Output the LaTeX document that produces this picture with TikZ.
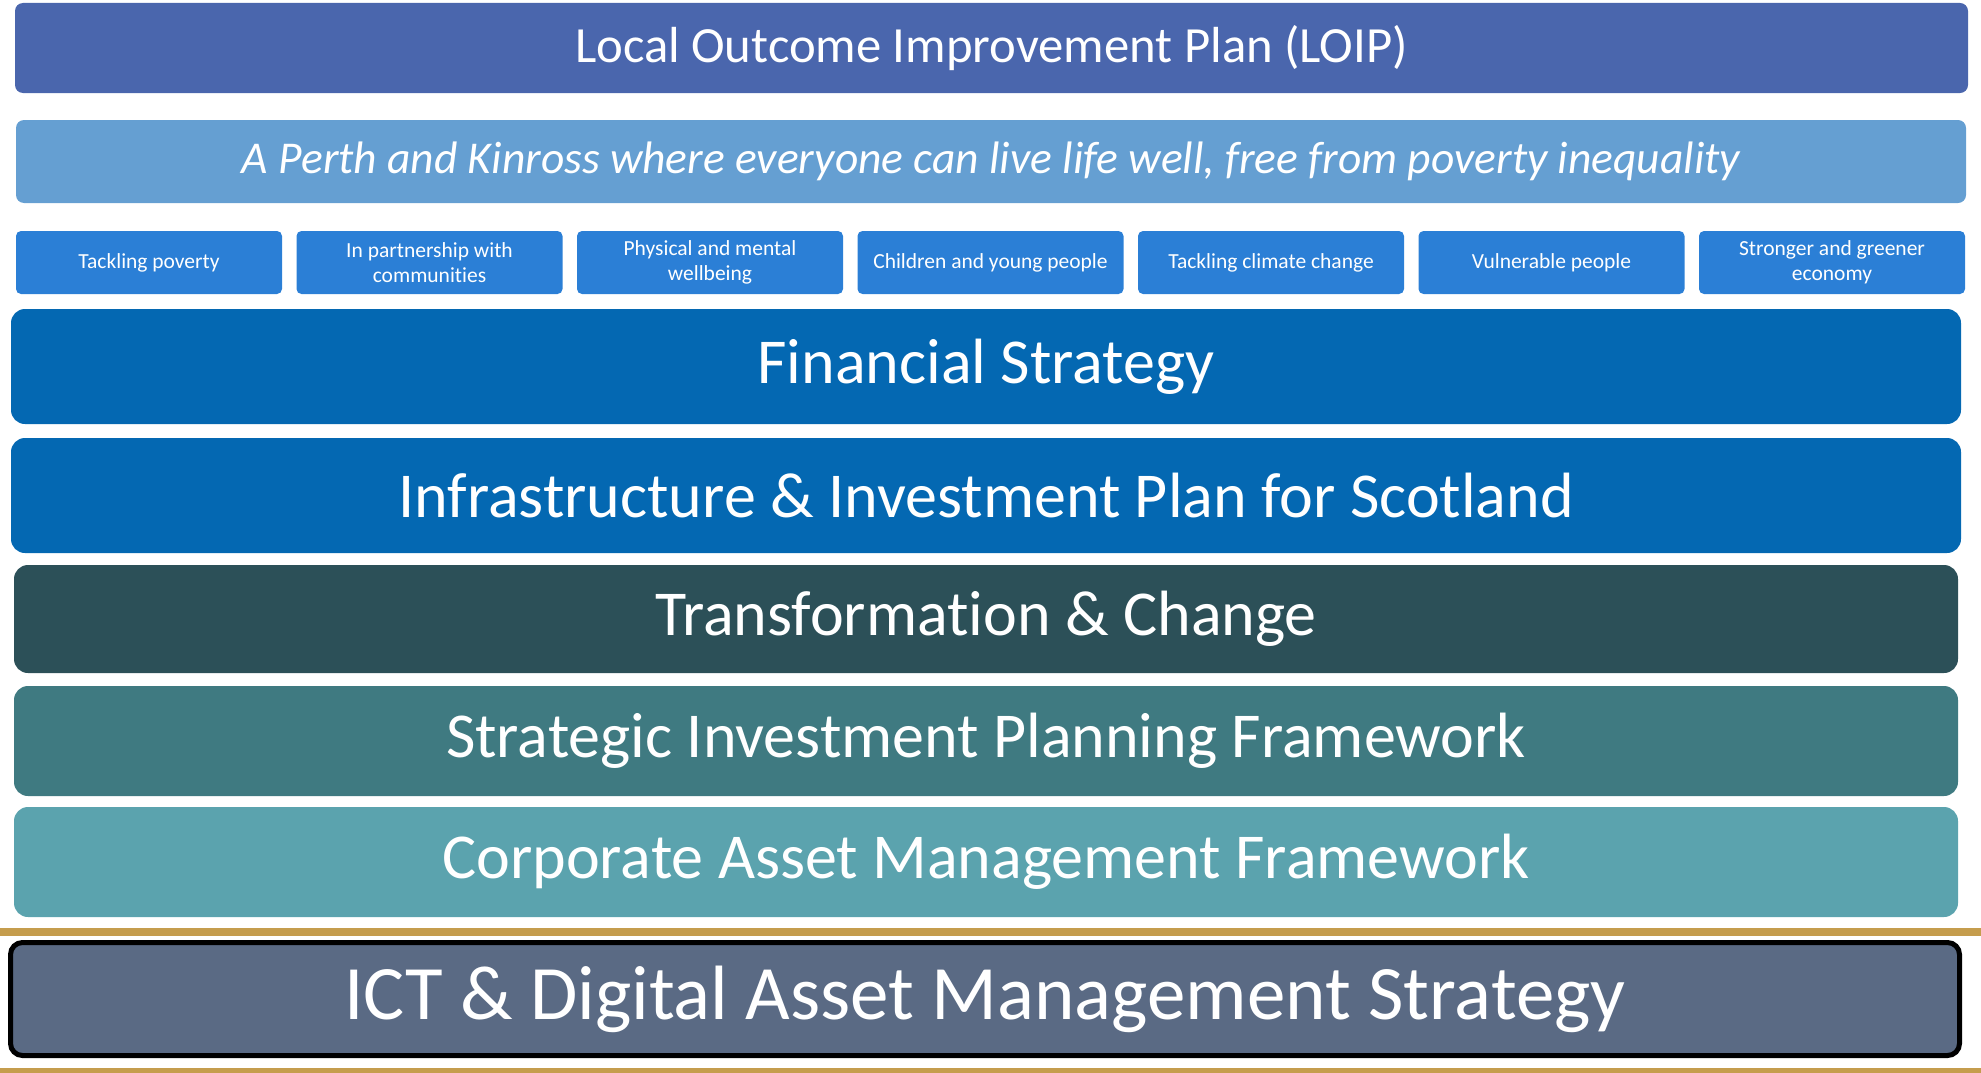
\documentclass[tikz,border=0pt]{standalone}
\usepackage{fontspec}
\setmainfont{Carlito}[Ligatures=NoCommon]
\usepackage{tikz}
\definecolor{loipblue}{HTML}{4A66AD}
\definecolor{visionblue}{HTML}{659FD2}
\definecolor{themeblue}{HTML}{2B7FD6}
\definecolor{planblue}{HTML}{0468B2}
\definecolor{changeteal}{HTML}{2C5058}
\definecolor{spifteal}{HTML}{3F7A81}
\definecolor{camfteal}{HTML}{5BA3AE}
\definecolor{ictslate}{HTML}{5A6A84}
\definecolor{goldline}{HTML}{C59D4D}

\tikzset{
  band/.style={rounded corners=14pt, inner sep=0pt, text=white, align=center},
  theme/.style={fill=themeblue, rounded corners=5pt, minimum width=266pt,
    minimum height=63pt, inner sep=0pt, text=white, align=center,
    font=\fontsize{21.5}{25}\selectfont},
}

\begin{document}
\begin{tikzpicture}[x=1pt, y=-1pt]
    \useasboundingbox (0,0) rectangle (1981,1073);

    \node[band, rounded corners=8pt, fill=loipblue, minimum width=1953pt,
      minimum height=90pt, font=\fontsize{50.7}{58}\selectfont] (loip)
      at (991.5, 48) {Local Outcome Improvement Plan (LOIP)};

    \node[band, rounded corners=8pt, fill=visionblue, minimum width=1950pt,
      minimum height=83pt, font=\fontsize{45.5}{52}\selectfont\itshape] (vision)
      at (991, 161.5)
      {A Perth and Kinross where everyone can live life well, free from poverty inequality};

    % outcome themes
    \foreach \label [count=\i from 0] in {Tackling poverty,
        In partnership with\\communities, Physical and mental\\wellbeing,
        Children and young people, Tackling climate change,
        Vulnerable people, Stronger and greener\\economy}
      \node[theme] (theme\i) at (149+\i*280.5, 262.5) {\label};

    \node[band, fill=planblue, minimum width=1950pt, minimum height=115pt,
      font=\fontsize{64}{72}\selectfont] (finance)
      at (986, 366.5) {Financial Strategy};

    \node[band, fill=planblue, minimum width=1950pt, minimum height=115pt,
      font=\fontsize{64}{72}\selectfont] (infra)
      at (986, 495.5) {Infrastructure \& Investment Plan for Scotland};

    \node[band, fill=changeteal, minimum width=1944pt, minimum height=108pt,
      font=\fontsize{64}{72}\selectfont] (change)
      at (986, 619) {Transformation \& Change};

    \node[band, fill=spifteal, minimum width=1944pt, minimum height=110pt,
      font=\fontsize{64}{72}\selectfont] (spif)
      at (986, 741) {Strategic Investment Planning Framework};

    \node[band, fill=camfteal, minimum width=1944pt, minimum height=110pt,
      font=\fontsize{64}{72}\selectfont] (camf)
      at (986, 862) {Corporate Asset Management Framework};

    % gold rules round the ICT strategy
    \fill[goldline] (0,928) rectangle (1981,936);
    \fill[goldline] (0,1068) rectangle (1981,1073);

    \node[band, rounded corners=12pt, fill=ictslate, draw=black, line width=5pt,
      minimum width=1949pt, minimum height=113pt,
      font=\fontsize{77}{85}\selectfont] (ict)
      at (985, 999) {ICT \& Digital Asset Management Strategy};
  \end{tikzpicture}
\end{document}
